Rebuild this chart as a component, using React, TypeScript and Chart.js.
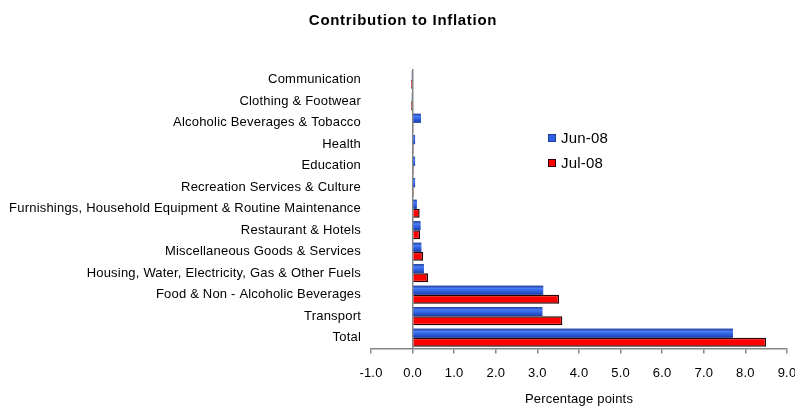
import React, { useEffect, useRef } from "react";
import { Chart, registerables } from "chart.js";

Chart.register(...registerables);

const categories = [
  "Communication",
  "Clothing & Footwear",
  "Alcoholic Beverages & Tobacco",
  "Health",
  "Education",
  "Recreation Services & Culture",
  "Furnishings, Household Equipment & Routine Maintenance",
  "Restaurant & Hotels",
  "Miscellaneous Goods & Services",
  "Housing, Water, Electricity, Gas & Other Fuels",
  "Food & Non - Alcoholic Beverages",
  "Transport",
  "Total",
];

const jun08 = [-0.03, -0.03, 0.2, 0.06, 0.06, 0.06, 0.1, 0.19, 0.21, 0.27, 3.14, 3.12, 7.7];
const jul08 = [-0.04, -0.04, 0.01, 0.03, 0.03, 0.03, 0.17, 0.18, 0.25, 0.37, 3.52, 3.6, 8.5];

const seriesNames = ["Jun-08", "Jul-08"];
const chartTitle = "Contribution to Inflation";
const xAxisTitle = "Percentage points";
const xTickMin = -1;
const xTickMax = 9;

const FONT = 'Arial, "Liberation Sans", sans-serif';
const AXIS_GREY = "#858585";
const BLUE = "#2f5fe3";
const BLUE_EDGE = "#1d3c9e";
const RED = "#ff0000";
const RED_EDGE = "#2a0000";
const TEXT_SPACING = "0.2px";

// Slightly loose text tracking for all axis text
const tracking = {
  id: "tracking",
  beforeUpdate(chart: Chart) {
    (chart.ctx as any).letterSpacing = TEXT_SPACING;
  },
  beforeLayout(chart: Chart) {
    (chart.ctx as any).letterSpacing = TEXT_SPACING;
  },
  beforeDraw(chart: Chart) {
    (chart.ctx as any).letterSpacing = TEXT_SPACING;
  },
};

// Shaded fill for the Jun-08 bars (darker edges, lighter upper band)
const blueShading = {
  id: "blueShading",
  afterDatasetDraw(chart: Chart, args: any) {
    if (args.index !== 0) return;
    const { ctx } = chart;
    const meta = chart.getDatasetMeta(0);
    ctx.save();
    meta.data.forEach((el: any) => {
      const left = Math.min(el.x, el.base);
      const w = Math.abs(el.x - el.base);
      if (w < 1) return;
      const top = el.y - el.height / 2;
      const g = ctx.createLinearGradient(0, top, 0, top + el.height);
      g.addColorStop(0, "#1c3a9a");
      g.addColorStop(0.3, "#4a7cf2");
      g.addColorStop(0.6, "#2f60e2");
      g.addColorStop(1, "#1d3c9e");
      ctx.fillStyle = g;
      ctx.fillRect(left, top, w, el.height);
    });
    ctx.restore();
  },
};

// Chart title drawn centred above the plot
const titleText = {
  id: "titleText",
  afterDraw(chart: Chart) {
    const { ctx } = chart;
    ctx.save();
    (ctx as any).letterSpacing = "0.7px";
    ctx.font = `bold 15px ${FONT}`;
    ctx.fillStyle = "#000";
    ctx.textAlign = "center";
    ctx.textBaseline = "alphabetic";
    ctx.fillText(chartTitle, 403, 25);
    ctx.restore();
  },
};

// Legend boxes sit inside the plot area, right of the small bars
const inlineLegend = {
  id: "inlineLegend",
  afterDatasetsDraw(chart: Chart) {
    const { ctx, chartArea } = chart;
    const x0 = chartArea.left + 177;
    const rows = [
      { y: chartArea.top + 69, fill: BLUE, stroke: BLUE_EDGE },
      { y: chartArea.top + 94, fill: RED, stroke: RED_EDGE },
    ];
    ctx.save();
    (ctx as any).letterSpacing = "0.2px";
    ctx.font = `15px ${FONT}`;
    ctx.textBaseline = "middle";
    ctx.textAlign = "left";
    rows.forEach((r, i) => {
      ctx.fillStyle = r.fill;
      ctx.fillRect(x0, r.y - 4, 8, 8);
      ctx.strokeStyle = r.stroke;
      ctx.lineWidth = 1;
      ctx.strokeRect(x0 + 0.5, r.y - 3.5, 7, 7);
      ctx.fillStyle = "#000";
      ctx.fillText(seriesNames[i], x0 + 13, r.y + 1);
    });
    ctx.restore();
  },
};

export default function App() {
  const canvasRef = useRef<HTMLCanvasElement | null>(null);

  useEffect(() => {
    if (!canvasRef.current) return;
    const chart = new Chart(canvasRef.current, {
      type: "bar",
      data: {
        labels: categories,
        datasets: [
          {
            label: seriesNames[0],
            data: jun08,
            backgroundColor: BLUE,
            borderColor: BLUE_EDGE,
            borderWidth: 1,
            categoryPercentage: 0.84,
            barPercentage: 1,
          },
          {
            label: seriesNames[1],
            data: jul08,
            backgroundColor: RED,
            borderColor: RED_EDGE,
            borderWidth: 1.5,
            categoryPercentage: 0.84,
            barPercentage: 1,
          },
        ],
      },
      options: {
        indexAxis: "y",
        animation: false,
        responsive: true,
        maintainAspectRatio: false,
        layout: { padding: { left: 8, right: 0, top: 69, bottom: 0 } },
        plugins: {
          legend: { display: false },
          tooltip: { enabled: false },
          title: { display: false },
        },
        scales: {
          x: {
            type: "linear",
            min: xTickMin,
            max: xTickMax,
            afterFit: (scale: any) => {
              // let the last tick label run to the canvas edge
              scale.paddingRight = 8;
            },
            ticks: {
              stepSize: 1,
              color: "#000",
              font: { family: FONT, size: 13 },
              padding: 12,
              callback: (v: any) => Number(v).toFixed(1),
            },
            grid: {
              color: (c: any) => (c.tick && c.tick.value === 0 ? AXIS_GREY : "transparent"),
              tickColor: AXIS_GREY,
              tickLength: 5,
              lineWidth: 1.5,
            },
            border: { display: true, color: AXIS_GREY, width: 1.5 },
            title: {
              display: true,
              text: xAxisTitle,
              color: "#000",
              font: { family: FONT, size: 13, lineHeight: 1 },
              padding: { top: 0, bottom: 0 },
            },
          },
          y: {
            type: "category",
            afterFit: (scale: any) => {
              scale.width = 363;
            },
            ticks: {
              color: "#000",
              font: { family: FONT, size: 13 },
              padding: 10,
              autoSkip: false,
            },
            grid: { display: false, drawTicks: false },
            border: { display: false },
          },
        },
      },
      plugins: [tracking, blueShading, titleText, inlineLegend],
    });
    return () => chart.destroy();
  }, []);

  return (
    <div style={{ position: "fixed", left: 0, top: 0, width: 795, height: 406, background: "#fff" }}>
      <canvas ref={canvasRef} />
    </div>
  );
}
